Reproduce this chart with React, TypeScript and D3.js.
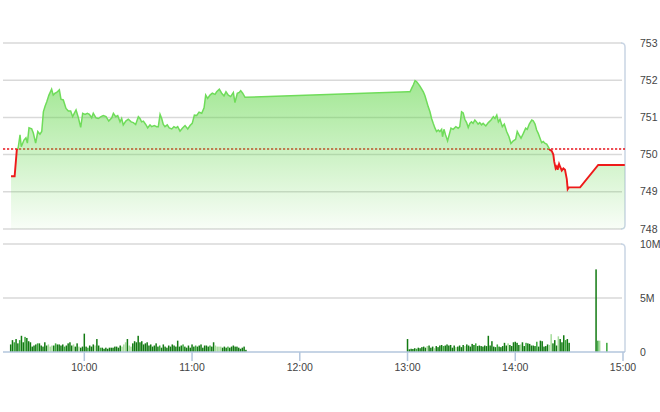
import React from "react";
import * as d3 from "d3";

// ---------- DATA ----------
// intraday index, time in minutes after 09:00
const priceMinutes = [
  19.2, 21.2, 22.4, 23.2, 24.2, 24.9, 26.4, 27.5, 28.3, 29.2, 30.7, 31.6, 32.9, 34.1, 35.3, 36.3,
  37.2, 38.1, 39.1, 40.3, 41.8, 42.7, 43.7, 44.6, 46.1, 47.0, 48.3, 49.8, 51.1, 52.4, 53.5, 54.4,
  55.4, 56.7, 58.0, 59.1, 60.4, 61.7, 62.8, 64.1, 65.0, 66.5, 67.8, 69.3, 70.6, 72.1, 73.6, 75.3,
  76.2, 77.5, 78.6, 79.9, 80.8, 81.7, 83.1, 84.5, 86.1, 87.3, 88.6, 90.1, 91.0, 91.9, 92.9, 94.2,
  95.3, 96.6, 97.5, 99.0, 100.3, 101.2, 102.2, 103.1, 104.0, 104.9, 106.2, 107.3, 108.7, 109.9,
  111.1, 112.0, 113.3, 114.6, 116.1, 117.6, 118.9, 120.1, 121.3, 122.6, 123.9, 125.4, 126.7,
  127.6, 128.7, 130.0, 131.3, 132.8, 133.7, 135.2, 136.5, 137.8, 138.9, 140.2, 141.5, 143.0,
  143.9, 145.2, 146.3, 147.1, 148.2, 149.5,
  240.4, 241.4, 242.3, 243.2, 244.2, 245.1, 246.0, 246.9, 247.9, 248.8, 249.7, 250.7, 251.5,
  252.5, 253.4, 254.3, 255.3, 256.2, 257.1, 258.0, 259.0, 259.5, 260.3, 261.2, 262.3, 263.2,
  264.2, 265.4, 266.9, 268.2, 269.1, 270.1, 271.0, 271.9, 272.9, 273.8, 274.7, 275.6, 276.5,
  277.5, 278.4, 279.3, 280.2, 281.2, 282.1, 283.6, 285.0, 286.5, 287.8, 288.7, 289.7, 290.6,
  291.5, 292.8, 293.9, 295.2, 296.5, 297.6, 298.9, 300.2, 301.1, 302.1, 303.2, 304.5, 305.8,
  306.7, 307.8, 309.2, 310.0, 311.0, 311.9, 312.8, 313.8, 314.7, 315.6, 316.6, 317.5, 318.4,
  319.4, 320.3, 321.2, 321.7, 322.5, 323.1, 323.6, 324.4, 325.1, 325.9, 326.8, 327.7, 328.7,
  329.2, 329.9, 336.1, 346.2, 361,
];
const priceValues = [
  749.42, 749.42, 750.12, 750.19, 750.53, 750.21, 750.39, 750.45, 750.31, 750.72, 750.69, 750.58,
  750.31, 750.62, 750.55, 750.62, 751.15, 751.29, 751.42, 751.6, 751.76, 751.6, 751.65, 751.67,
  751.74, 751.49, 751.47, 751.24, 751.17, 751.17, 751.02, 751.11, 751.2, 750.99, 750.73, 751.11,
  751.08, 751.11, 751.08, 750.99, 751.11, 750.99, 750.97, 751.02, 751.05, 751.02, 750.9, 750.99,
  751.11, 751.02, 751.05, 750.88, 750.97, 750.8, 750.9, 750.95, 750.88, 750.86, 750.81, 751.02,
  750.97, 750.88, 750.9, 750.81, 750.72, 750.8, 750.75, 750.78, 750.75, 750.75, 751.08, 750.97,
  750.81, 750.75, 750.8, 750.72, 750.69, 750.75, 750.72, 750.75, 750.63, 750.71, 750.78, 750.69,
  750.78, 750.84, 751.06, 751.05, 751.14, 751.11, 751.26, 751.6, 751.51, 751.6, 751.65, 751.62,
  751.69, 751.76, 751.65, 751.58, 751.69, 751.6, 751.56, 751.67, 751.4, 751.65, 751.67, 751.72,
  751.65, 751.54,
  751.69, 751.69, 751.78, 751.87, 751.99, 751.96, 751.9, 751.84, 751.76, 751.69, 751.58, 751.42,
  751.29, 751.15, 750.97, 750.84, 750.71, 750.62, 750.66, 750.62, 750.68, 750.48, 750.68, 750.53,
  750.37, 750.53, 750.71, 750.68, 750.75, 750.71, 750.75, 751.15, 751.12, 750.95, 750.86, 750.73,
  750.84, 750.88, 750.84, 750.93, 750.88, 750.82, 750.86, 750.8, 750.84, 750.77, 750.86, 750.93,
  751.02, 750.97, 751.06, 750.88, 750.95, 750.75, 750.82, 750.62, 750.48, 750.3, 750.37, 750.41,
  750.62, 750.53, 750.44, 750.57, 750.71, 750.68, 750.82, 750.93, 750.91, 750.82, 750.66, 750.57,
  750.44, 750.32, 750.35, 750.3, 750.28, 750.21, 750.12, 750.1, 750.0, 749.81, 749.63, 749.68,
  749.59, 749.75, 749.66, 749.57, 749.63, 749.59, 749.34, 749.07, 749.12, 749.12, 749.72, 749.72,
];
const referencePrice = 750.15;

// volume (millions), one bar per minute
const volMorningStart = 19; // 09:19
const volMorning = [
  0.7, 1.1, 0.9, 1.2, 0.8, 1.1, 1.5, 0.9, 1.4, 1.3,
  1.0, 0.9, 0.5, 0.6, 0.7, 0.8, 0.8, 0.6, 0.5, 0.9,
  0.6, 0.7, 0.5, 0.6, 0.6, 0.8, 0.7, 0.7, 0.6, 0.7,
  0.5, 0.6, 0.8, 0.9, 0.6, 0.7, 0.5, 0.8, 0.5, 0.4,
  0.5, 1.7, 0.5, 0.4, 0.6, 0.5, 0.7, 0.6, 1.2, 0.6,
  0.4, 0.4, 0.3, 0.4, 0.3, 0.4, 0.4, 0.4, 0.5, 0.5,
  0.4, 0.6, 0.5, 0.7, 0.9, 1.2, 0.6, 0.5, 0.8, 1.0,
  0.9, 1.5, 0.9, 1.0, 0.7, 0.8, 0.9, 0.6, 0.7, 0.5,
  0.6, 0.8, 0.5, 0.6, 0.4, 0.7, 0.5, 0.4, 0.6, 0.5,
  0.7, 0.6, 0.5, 1.05, 0.5, 0.6, 0.7, 0.5, 0.4, 0.6,
  0.4, 0.7, 0.5, 0.6, 0.5, 0.6, 0.7, 0.4, 0.6, 0.6,
  0.5, 0.6, 0.5, 0.9, 0.6, 0.5, 0.5, 0.5, 0.4, 0.5,
  0.4, 0.5, 0.4, 0.5, 0.6, 0.5, 0.5, 0.4, 0.3, 0.4,
  0.5, 0.2,
];
const volMorningSide =
  "ddmddmddmd" + "dddddmdddd" + "dllldmdddd" + "mddddlddld" + "dddmdddldd" +
  "mddddddddd" + "ddllldlldd" + "dddddddddd" + "dddmdddddd" + "ddddddmddd" +
  "dddmdddddd" + "dmddlllldd" + "dmdddddddd" + "dd";
const volAfternoonStart = 240; // 13:00
const volAfternoon = [
  1.2, 0.25, 0.3, 0.28, 0.35, 0.3, 0.4, 0.35, 0.45, 0.5,
  0.4, 0.55, 0.6, 0.4, 0.5, 0.35, 0.55, 0.45, 0.6, 0.65,
  0.55, 0.6, 0.7, 0.6, 0.65, 0.4, 0.6, 0.45, 0.5, 0.6,
  0.45, 0.65, 0.55, 0.7, 0.6, 0.5, 0.75, 0.65, 0.8, 0.55,
  0.6, 0.55, 0.5, 0.6, 0.55, 1.5, 0.6, 1.0, 0.5, 0.45,
  0.7, 0.5, 0.45, 0.55, 0.85, 0.6, 0.8, 0.65, 0.55, 0.9,
  0.95, 0.85, 0.65, 0.7, 0.9, 0.55, 0.85, 0.8, 0.75, 0.6,
  0.6, 0.55, 0.95, 0.5, 1.05, 1.0, 0.5, 0.55, 0.7, 0.65,
  1.65, 0.8, 1.1, 0.6, 1.45, 1.2, 0.9, 1.55, 1.1, 1.2,
  0.85,
];
const volAfternoonSide =
  "dddddmdddd" + "dldddldddd" + "mddddddldd" + "ddldddddmd" + "dddddddddd" +
  "mdddddlddd" + "dddlddmddd" + "ddmddddddl" + "ldddldddmdd";
const volLateMinutes = [345, 346, 347, 351];
const volLate = [7.65, 1.05, 1.05, 0.85];
const volLateSide = "dmlm";

const priceTicks = [748, 749, 750, 751, 752, 753];
const volTicks = [0, 5, 10];
const volTickLabels = ["0", "5M", "10M"];
const timeTickLabels = ["10:00", "11:00", "12:00", "13:00", "14:00", "15:00"];

// ---------- CHART ----------
const W = 660;
const H = 412;
const FONT = "'Liberation Sans', Arial, sans-serif";
const sideColor: Record<string, string> = { d: "#127a12", m: "#3aa83a", l: "#a5dc9b" };

const toMin = (s: string) => {
  const [h, m] = s.split(":").map(Number);
  return (h - 9) * 60 + m;
};

export default function App() {
  const x = d3.scaleLinear().domain([15, 360]).range([3.5, 623]);
  const yP = d3.scaleLinear().domain([748, 753]).range([229, 43]);
  const yV = d3.scaleLinear().domain([0, 10]).range([352, 244]);
  const xL = 3;
  const xR = 625;

  const pts: [number, number][] = priceMinutes.map((m, i) => [m, priceValues[i]]);
  const line = d3
    .line<[number, number]>()
    .x((d) => x(d[0]))
    .y((d) => yP(d[1]));
  const area = d3
    .area<[number, number]>()
    .x((d) => x(d[0]))
    .y0(yP(748))
    .y1((d) => yP(d[1]));
  const yRef = yP(referencePrice);

  const bars: { m: number; v: number; s: string }[] = [];
  volMorning.forEach((v, i) => bars.push({ m: volMorningStart + i, v, s: volMorningSide[i] || "d" }));
  volAfternoon.forEach((v, i) => bars.push({ m: volAfternoonStart + i, v, s: volAfternoonSide[i] || "d" }));
  volLate.forEach((v, i) => bars.push({ m: volLateMinutes[i], v, s: volLateSide[i] || "d" }));

  const gridColor = "#d9d9d9";
  const borderColor = "#c9d5e4";
  const axisColor = "#b3c6dd";

  return (
    <div style={{ position: "absolute", left: 0, top: 0 }}>
      <svg width={W} height={H} style={{ display: "block", background: "#fff" }}>
        <defs>
          <linearGradient id="pg" gradientUnits="userSpaceOnUse" x1={0} y1={yP(753)} x2={0} y2={yP(748)}>
            <stop offset="0" stopColor="#5fd646" stopOpacity={0.72} />
            <stop offset="1" stopColor="#5fd646" stopOpacity={0.04} />
          </linearGradient>
          <clipPath id="above">
            <rect x={0} y={0} width={W} height={yRef} />
          </clipPath>
          <clipPath id="below">
            <rect x={0} y={yRef} width={W} height={H - yRef} />
          </clipPath>
        </defs>

        {/* price grid */}
        {priceTicks.map((t) => (
          <line key={"pg" + t} x1={xL} x2={xR - 3} y1={yP(t)} y2={yP(t)} stroke={gridColor} strokeWidth={1.5} />
        ))}
        <path
          d={`M${xR - 4},${yP(753)} Q${xR},${yP(753)} ${xR},${yP(753) + 4} V${yP(748) - 4} Q${xR},${yP(748)} ${xR - 4},${yP(748)}`}
          fill="none"
          stroke={borderColor}
          strokeWidth={1.5}
        />

        {/* reference line */}
        <line x1={xL} x2={xR} y1={yRef} y2={yRef} stroke="#e8141c" strokeWidth={1.6} strokeDasharray="2.2,1.8" />

        {/* area */}
        <path d={area(pts) || ""} fill="url(#pg)" />

        {/* price line */}
        <path d={line(pts) || ""} fill="none" stroke="#6fdc5a" strokeWidth={1.5} clipPath="url(#above)" />
        <path d={line(pts) || ""} fill="none" stroke="#ee1a1a" strokeWidth={1.9} clipPath="url(#below)" />

        {/* price axis labels */}
        {priceTicks.map((t) => (
          <text key={"pl" + t} x={640} y={yP(t)} dy="0.35em" fontSize={10.5} fontFamily={FONT} fill="#444">
            {t}
          </text>
        ))}

        {/* volume grid */}
        {volTicks.slice(1).map((t) => (
          <line key={"vg" + t} x1={xL} x2={xR - 3} y1={yV(t)} y2={yV(t)} stroke={gridColor} strokeWidth={1.5} />
        ))}
        <path
          d={`M${xR - 4},${yV(10)} Q${xR},${yV(10)} ${xR},${yV(10) + 4} V${yV(0)}`}
          fill="none"
          stroke={borderColor}
          strokeWidth={1.5}
        />

        {/* volume bars */}
        {bars.map((b, i) => (
          <rect
            key={"b" + i}
            x={x(b.m) - 0.75}
            y={yV(b.v)}
            width={1.5}
            height={yV(0) - yV(b.v)}
            fill={sideColor[b.s]}
          />
        ))}

        {/* time axis */}
        <line x1={xL} x2={xR} y1={yV(0)} y2={yV(0)} stroke={axisColor} strokeWidth={1.5} />
        {timeTickLabels.map((lab) => {
          const tx = x(toMin(lab));
          return (
            <g key={lab}>
              <line x1={tx} x2={tx} y1={yV(0)} y2={yV(0) + 9} stroke={axisColor} strokeWidth={1.5} />
              <text x={tx} y={367} dy="0.35em" textAnchor="middle" fontSize={10.5} fontFamily={FONT} fill="#444">
                {lab}
              </text>
            </g>
          );
        })}

        {/* volume axis labels */}
        {volTicks.map((t, i) => (
          <text key={"vl" + t} x={640} y={yV(t)} dy="0.35em" fontSize={10.5} fontFamily={FONT} fill="#444">
            {volTickLabels[i]}
          </text>
        ))}
      </svg>
    </div>
  );
}
